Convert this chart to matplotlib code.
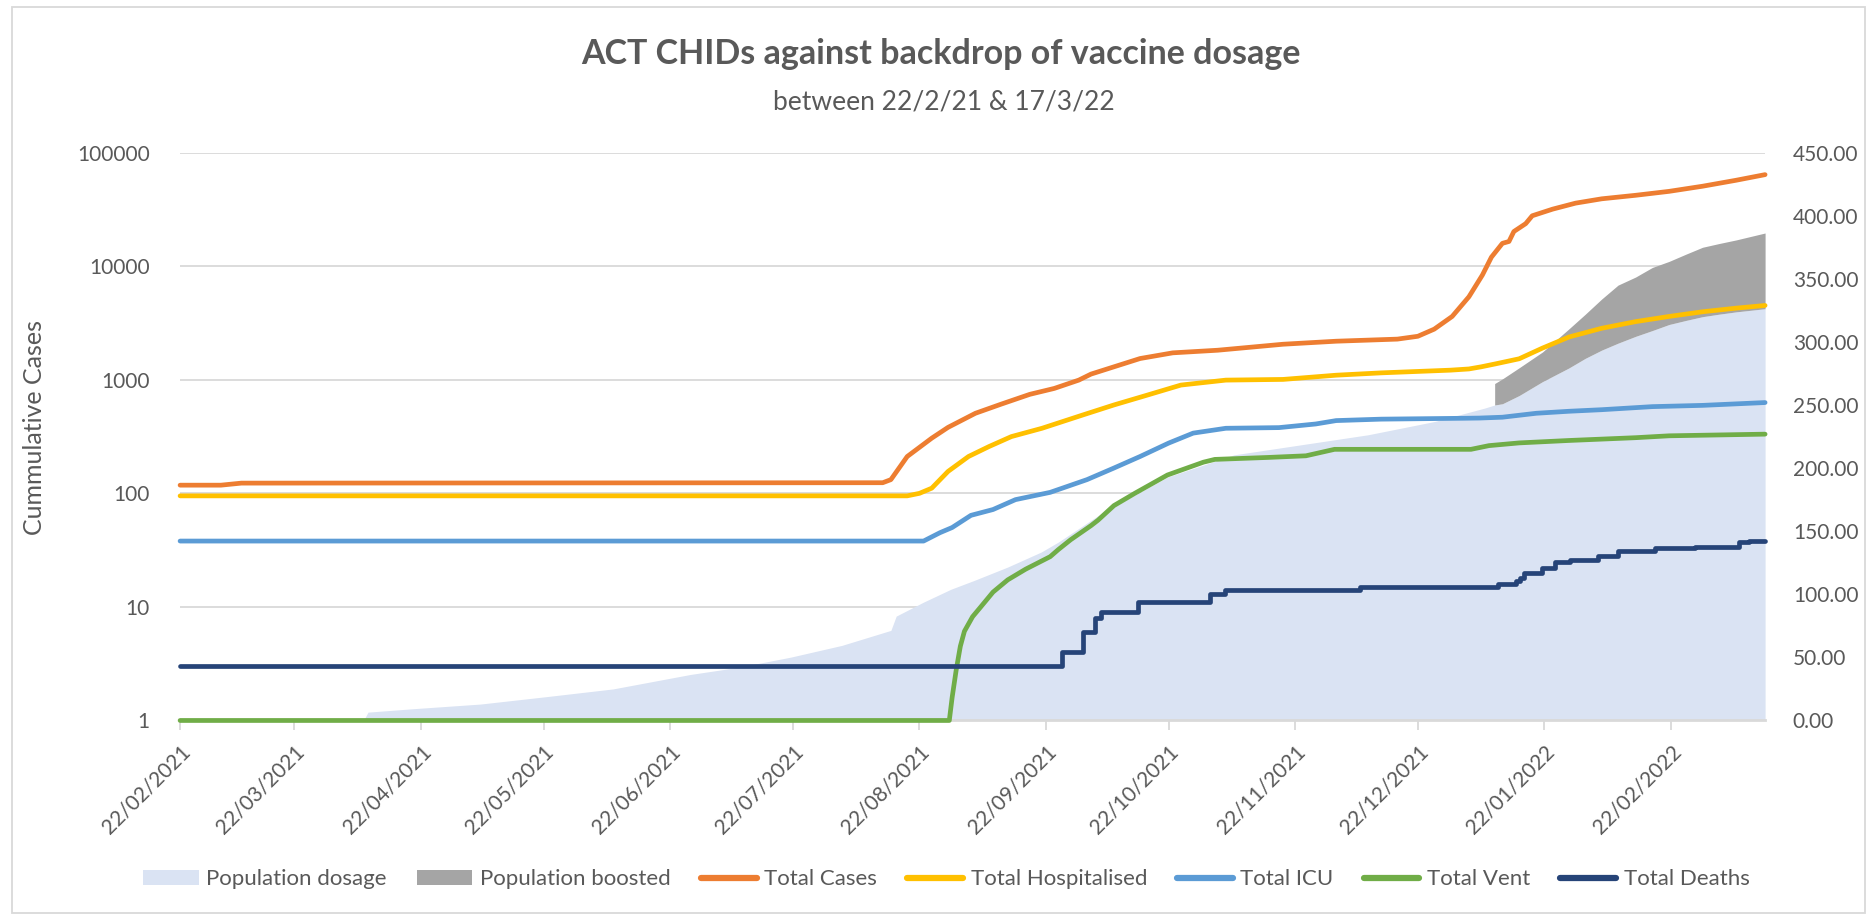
import numpy as np
import pandas as pd
import matplotlib
matplotlib.use("Agg")
import matplotlib.pyplot as plt
from matplotlib.lines import Line2D
from matplotlib.patches import Patch, Rectangle

plt.rcParams["font.family"] = ["Lato", "DejaVu Sans"]

START = pd.Timestamp("2021-02-22")
END = pd.Timestamp("2022-03-17")

# all x values are days since 22/02/2021
cases_days = [0, 10, 15, 172, 174, 178, 184, 188, 194.7, 201, 208, 214, 220, 223,
              228.6, 235, 243, 254, 270, 283, 298, 303, 307, 311.4, 315.5, 318.8,
              321, 323.7, 325.3, 326.5, 329.4, 331, 336, 341.6, 348, 356.3, 364.5,
              372.7, 380.9, 388]
cases_vals = [118, 118, 123, 124, 132, 211, 306, 381, 507, 610, 744, 839, 993, 1122,
              1300, 1538, 1726, 1820, 2055, 2185, 2280, 2415, 2790, 3610, 5380, 8360,
              12000, 15900, 16500, 20200, 23700, 27800, 31800, 35900, 39200, 42100,
              45600, 50600, 57100, 64000]

hosp_days = [0, 178, 181, 184, 188, 193, 198, 203.5, 211, 221, 228.6, 236, 245, 256,
             270, 283, 294, 311, 315.5, 318.5, 322, 327.8, 333.5, 340, 348, 356.3,
             364.5, 372.7, 380.9, 388]
hosp_vals = [95, 95, 100, 111, 156, 211, 258, 316, 374, 490, 600, 719, 898, 993,
             1007, 1097, 1150, 1215, 1245, 1300, 1380, 1530, 1900, 2380, 2840, 3250,
             3610, 3970, 4270, 4510]

icu_days = [0, 182, 186, 189, 193.6, 199, 204.5, 213, 222, 228.6, 235, 242, 248, 256,
            269, 278, 283, 294, 314, 318, 323.7, 332, 340, 348, 360.4, 372.7, 388]
icu_vals = [38, 38, 45, 50, 64, 72, 88, 102, 132, 167, 211, 277, 339, 374,
            379, 408, 437, 450, 458, 460, 468, 507, 528, 545, 580, 595, 630]

vent_days = [0, 188.3, 189, 190, 191, 192, 194, 196, 199, 202.6, 207, 213, 215, 218,
             223, 224.7, 228.6, 233.7, 241.7, 250.5, 253.3, 266.3, 275.6, 282.6,
             316, 320.4, 327.8, 340, 356.3, 364.5, 388]
vent_vals = [1, 1, 1.6, 2.8, 4.5, 6.1, 8.2, 10, 13.5, 17.3, 21.5, 27.7, 32, 39,
             52, 58, 78, 100, 145, 188, 199, 207, 214, 244,
             244, 263, 278, 292, 309, 321, 332]

deaths_days = [0, 216, 221, 224, 225.5, 234.5, 252, 255.7, 288.8, 322.5, 327, 328,
               329, 333.3, 336.6, 340.3, 347.2, 352.1, 361.1, 370.9, 381.5, 384, 388]
deaths_vals = [3, 4, 6, 8, 9, 11, 13, 14, 15, 16, 17, 18,
               20, 22, 25, 26, 28, 31, 33, 34, 37, 38, 38]

# population dosage (right axis)
dose_days = [0, 38, 45, 46, 57, 73.5, 90, 106, 125, 137, 149.5, 162, 174, 175.3, 182,
             188.7, 194.4, 202.6, 210.8, 215, 225.5, 241.8, 258, 274.5, 290.8, 307.2,
             319.4, 321.8, 323.7, 327.8, 333.5, 340, 344, 348, 352, 356.3, 360.4,
             364.5, 368.6, 372.7, 376.8, 380.9, 388]
dose_vals = [0, 0.2, 0.5, 6.6, 9.3, 13, 19, 25, 36.5, 42.3, 50.2, 59.5, 71.4, 82.7, 93.8,
             104, 111, 121.6, 133.5, 141.4, 164, 193, 210.5, 218.5, 226.4, 237,
             247.6, 250, 251, 257.5, 268.5, 279.4, 287, 293.5, 299, 304.4, 309,
             313.8, 317, 320, 322, 323.8, 326.3]

# population boosted, stacked on top of dosage from day 321.8 onwards
boost_start = 321.8
boost_vals = [17, 19.7, 22, 23.5, 31, 35, 40.5, 46, 47, 50, 50, 52.5, 55, 56, 57, 60]


def to_dates(days):
    return START + pd.to_timedelta(np.array(days, dtype=float), unit="D")


GREY_TXT = "#595959"
GRID = "#D9D9D9"

fig = plt.figure(figsize=(18.7, 9.15), dpi=100)
ax = fig.add_axes([0.0963, 0.2126, 0.8476, 0.6206])
axl = ax.twinx()

# areas on the right-hand (linear) axis
dose_x = to_dates(dose_days)
dose_y = np.array(dose_vals)
ax.fill_between(dose_x, 0, dose_y, color="#DAE3F3", lw=0, zorder=1)

bmask = np.array(dose_days) >= boost_start
base = dose_y[bmask]
ax.fill_between(dose_x[bmask], base, base + np.array(boost_vals),
                color="#A5A5A5", lw=0, zorder=1)

ax.set_ylim(0, 450)
ax.set_yticks(np.arange(0, 451, 50))
ax.set_yticklabels([f"{v:.2f}" for v in np.arange(0, 451, 50)])
ax.yaxis.tick_right()
for g in np.linspace(0, 450, 6)[1:]:
    ax.axhline(g, color=GRID, lw=1.3, zorder=0.5)

# lines on the left-hand (log) axis
series = [
    ("Total Cases", cases_days, cases_vals, "#ED7D31"),
    ("Total Hospitalised", hosp_days, hosp_vals, "#FFC000"),
    ("Total ICU", icu_days, icu_vals, "#5B9BD5"),
    ("Total Vent", vent_days, vent_vals, "#70AD47"),
]
for name, d, v, c in series:
    axl.plot(to_dates(d), v, color=c, lw=3.4, solid_capstyle="round",
             solid_joinstyle="round", clip_on=False, zorder=3)
axl.plot(to_dates(deaths_days), deaths_vals, color="#264478", lw=3.4,
         drawstyle="steps-post", solid_capstyle="round", clip_on=False, zorder=3)

axl.set_yscale("log")
axl.set_ylim(1, 100000)
axl.set_yticks([1, 10, 100, 1000, 10000, 100000])
axl.set_yticklabels(["1", "10", "100", "1000", "10000", "100000"])
axl.yaxis.set_minor_locator(matplotlib.ticker.NullLocator())
axl.yaxis.tick_left()

ax.set_xlim(START, END)
months = pd.date_range("2021-02-22", "2022-02-22", freq=pd.DateOffset(months=1))
ax.set_xticks(months)
ax.set_xticklabels([m.strftime("%d/%m/%Y") for m in months], rotation=45,
                   ha="right", va="top", rotation_mode="anchor")

for a in (ax, axl):
    for s in a.spines.values():
        s.set_visible(False)
ax.spines["bottom"].set_visible(True)
ax.spines["bottom"].set_color(GRID)
ax.spines["bottom"].set_linewidth(2)

ax.tick_params(axis="x", length=7, width=1.3, color=GRID, labelsize=15,
               labelcolor=GREY_TXT, pad=8)
ax.tick_params(axis="y", length=0, labelsize=15, labelcolor=GREY_TXT, pad=20)
axl.tick_params(axis="y", which="both", length=0, labelsize=15,
                labelcolor=GREY_TXT, pad=22)

fig.text(0.503, 0.941, "ACT CHIDs against backdrop of vaccine dosage",
         ha="center", va="center", fontsize=24.5, fontweight="bold", color=GREY_TXT)
fig.text(0.505, 0.889, "between 22/2/21 & 17/3/22", ha="center", va="center",
         fontsize=19, color=GREY_TXT)
fig.text(0.0185, 0.533, "Cummulative Cases", rotation=90, ha="center",
         va="center", fontsize=18, color=GREY_TXT)

handles = [
    Patch(facecolor="#DAE3F3", edgecolor="none"),
    Patch(facecolor="#A5A5A5", edgecolor="none"),
]
labels = ["Population dosage", "Population boosted"]
for name, d, v, c in series:
    handles.append(Line2D([], [], color=c, lw=4.5, solid_capstyle="round"))
    labels.append(name)
handles.append(Line2D([], [], color="#264478", lw=4.5, solid_capstyle="round"))
labels.append("Total Deaths")
leg = fig.legend(handles, labels, loc="center", bbox_to_anchor=(0.506, 0.039),
                 ncol=7, frameon=False, fontsize=16, handlelength=2.5,
                 columnspacing=1.35, handletextpad=0.35)
for t in leg.get_texts():
    t.set_color(GREY_TXT)

fig.patches.append(Rectangle((0.0064, 0.002), 0.991, 0.9903,
                             transform=fig.transFigure, fill=False,
                             edgecolor=GRID, lw=1.3))

fig.savefig("out.png", dpi=100)
